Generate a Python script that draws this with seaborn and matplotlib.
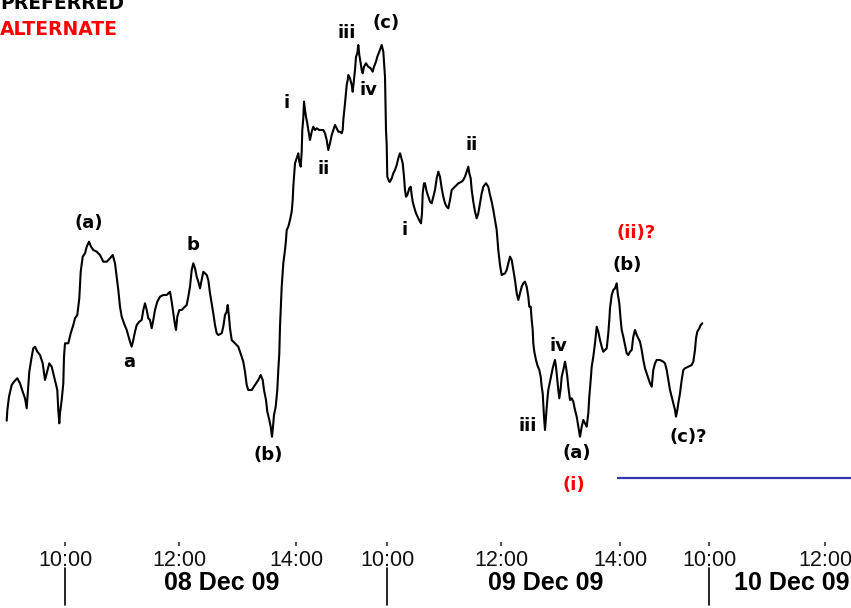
import matplotlib
matplotlib.use("Agg")
import matplotlib.pyplot as plt
import matplotlib.transforms as mtransforms
import seaborn as sns
import pandas as pd

# ---------------- data ----------------
# x: trading-time position (approx. minutes), y: price level (arbitrary units)
bar_pos = [
    6.7,7.3,9,11.7,14,17.3,20,22.7,25,26.7,29.3,31.7,33.3,35,37.3,40,42.7,45,46.7,49.3,51.7,53.3,55,57.3,58.3,59.3,60,61.7,63.3,64,65,68.3,70.7,73.3,75,77.3,79.3,80.7,82.7,85,86.7,89,91,93.3,96.7,100,103.3,106.7,110,112.7,115,116.7,118.3,120,121.7,124,126.7,130,131.7,133.3,135,136.7,139.3,141.7,
    143.3,145,146.7,148.3,150,151.7,153.3,155,157.3,160,163.3,166.7,170,171.7,173.3,175,176,177.3,179.3,181.7,183.3,186.7,188.3,190,191.7,193.3,195,196.7,198.3,200,201.7,203.3,205,206.7,208.3,210,211.7,213.3,215,216.7,218.3,221.7,223.3,225,226.7,227.7,229,230,231.7,235,238.3,240,241.7,243.3,245,246.7,248.3,251.7,255,258.3,260.7,262.7,264,266,267.3,269.3,270.7,272,272.7,274,275.7,277.3,278.3,279.3,280,281.7,283.3,285,286,
    286.7,288.3,290,291.7,292.7,293.3,294,295,296.7,298.3,299.3,300.7,301.7,302.3,303.3,304,305,306,307.3,308.3,310,311.7,313.3,315,316.7,319.3,321.7,323.3,325,326.7,328.3,330,331.7,333.3,335,336.7,338.3,340,341.7,342.7,343.3,345,346.7,347.7,348.3,350,351.7,352.7,354,355,356,357.3,358.3,359.3,360.7,361.7,362.7,364,366,368.3,370.7,372.7,374,376,377.3,379.3,381.7,383.3,385,386,386.7,387.3,389.3,
    390,391.7,393.3,395,396.7,398.3,400,401,402.7,404,405,406,407.3,408.3,409.3,410.7,411.7,412.7,414,416,418.3,420,421,422,422.7,424,425,426.7,428.3,430,431.7,433.3,435,436.7,438.3,440,441.7,443.3,445,446.7,448.3,450,451.7,453.3,455,456.7,458.3,461.7,463.3,465,466.7,468.3,469.3,470.7,471.7,473.3,475,476.7,478.3,480,481.7,483.3,486,488.3,490,491.7,493.3,495,496.7,498.3,500,501.7,505,506.7,508.3,510,511.7,513.3,515,516.7,518.3,520,521.7,523.3,525,526.7,528.3,529.3,
    530.7,531.7,532.7,533.3,534.3,536,537.3,539.3,540.7,541.7,542.7,544,545,546,547.3,548.3,550,551.7,552.7,554,555,556,557.3,558.3,559.3,560.7,561.7,563.3,565,566,567.3,568.3,570,571.7,573.3,575,576.7,578.3,580,581.7,583.3,585,586.7,588.3,589.3,590.7,591.7,593.3,595,596.7,
    598.3,600,601.7,603.3,605,606.7,608.3,609.3,610,611.7,613.3,615,616.7,617.7,619.3,620.7,621.7,623.3,625,626.7,628.3,630,631.7,633.3,635,636.7,638.3,640,641.7,643.3,645,646.7,648.3,650,651.7,653.3,655,656.7,660,663.3,665,666.7,668.3,670,671.7,673.3,675,676,677.3,678.3,680,681.7,683.3,685,688.3,691.7,693.3,695,696,697.3,699.3,700.7,702.3,
]
price = [
    179.3,189.3,203.3,215,218.3,221.7,216.7,208.3,201.7,191.7,228.3,243.3,251.7,253.3,248.3,245,236.7,220,226.7,236.7,233.3,226.7,220,210,190,176.7,186.7,200,216.7,243.3,256.7,256.7,266.7,275,281.7,285,301.7,328.3,343.3,346.7,353.3,358.3,353.3,350,348.3,345,338.3,338.3,341.7,345,336.7,323.3,310,293.3,283.3,276.7,270,258.3,253.3,260,268.3,275,278.3,280,
    290,296.7,290,281.7,280,271.7,280,290,298.3,303.3,305,305,308.3,298.3,286.7,275,270,283.3,290,290,291.7,295,303.3,313.3,330,336.7,331.7,323.3,318.3,311.7,320,328.3,326.7,325,320,306.7,296.7,286.7,275,266.7,265,266.7,273.3,285,288.3,295,283.3,271.7,260,256.7,253.3,248.3,243.3,238.3,228.3,215,210,210,215,220,225,220,210,200,188.3,180,173.3,163.3,170,185,193.3,210,230,246.7,273.3,313.3,336.7,350,360,
    370,373.3,380,388.3,400,413.3,423.3,436.7,441.7,446.7,438.3,433.3,448.3,470,481.7,498.3,490,483.3,476.7,470,460,468.3,473.3,470,471.7,470,470,470,466.7,460,450,456.7,465,470,475,471.7,468.3,468.3,466.7,470,480,496.7,515,520,525,521.7,515,508.3,520,530,543.3,546.7,555,545,536.7,530,526.7,533.3,536.7,533.3,531.7,528.3,533.3,538.3,543.3,548.3,555,548.3,523.3,470,455,423.3,418.3,
    418.3,421.7,426.7,430,435,441.7,446.7,443.3,436.7,423.3,410,403.3,405,408.3,411.7,413.3,405,398.3,393.3,386.7,381.7,378.3,376.7,386.7,406.7,416.7,416.7,408.3,403.3,398.3,396.7,403.3,410,421.7,428.3,423.3,411.7,403.3,396.7,393.3,391.7,400,410,411.7,413.3,415,416.7,418.3,420,423.3,428.3,433.3,426.7,421.7,410,398.3,388.3,381.7,386.7,396.7,406.7,413.3,416.7,413.3,405,398.3,390,380,370,350,335,325,326.7,330,336.7,343.3,340,330,320,306.7,300,306.7,313.3,316.7,318.3,313.3,303.3,293.3,
    293.3,280,270,256.7,248.3,240,235,230,223.3,213.3,206.7,183.3,170,183.3,200,210,218.3,226.7,231.7,236.7,240,233.3,220,210,201.7,211.7,223.3,230,238.3,233.3,223.3,213.3,200,201.7,198.3,190,183.3,173.3,163.3,173.3,180,176.7,173.3,186.7,203.3,220,233.3,243.3,256.7,273.3,
    268.3,260,253.3,248.3,250,251.7,266.7,280,291.7,305,310,311.7,316.7,306.7,296.7,280,270,263.3,255,246.7,245,248.3,250,263.3,270,265,261.7,258.3,250,240,231.7,226.7,221.7,216.7,213.3,230,236.7,240,240,238.3,236.7,230,220,210,203.3,196.7,190,183.3,190,196.7,206.7,220,230,231.7,233.3,235,238.3,250,261.7,268.3,271.7,275,276.7,
]

tick_pos = [65, 179, 296, 387, 501, 620, 709, 825]
tick_labels = ["10:00", "12:00", "14:00", "10:00", "12:00", "14:00", "10:00", "12:00"]
day_starts = [65, 387, 709]
day_label_pos = [222, 546, 792]
day_labels = ["08 Dec 09", "09 Dec 09", "10 Dec 09"]

support_level = 122
support_from = 617

# wave labels: text, x, y, colour
wave_text = ["(a)", "a", "b", "(b)", "i", "ii", "iii", "(c)", "iv", "i", "ii",
             "iv", "iii", "(a)", "(i)", "(c)?", "(ii)?", "(b)"]
wave_x = [89, 129, 193, 268, 287, 324, 347, 386, 368, 405, 472,
          558, 528, 577, 574, 688, 636, 627]
wave_y = [377, 238, 355, 145, 497, 431, 567, 577, 510, 370, 455,
          254, 174, 147, 115, 163, 367, 335]
wave_col = ["black"] * 14 + ["red", "black", "red", "black"]

# ---------------- plot ----------------
sns.set_theme(style="white")
plt.rcParams["font.family"] = ["DejaVu Sans"]

W, H = 851, 608
fig = plt.figure(figsize=(W / 100, H / 100), dpi=100)
ax_bottom_px = 542
ax = fig.add_axes([0, 1 - ax_bottom_px / H, 1, ax_bottom_px / H])

df = pd.DataFrame({"pos": bar_pos, "price": price})
sns.lineplot(data=df, x="pos", y="price", ax=ax, color="black",
             linewidth=1.5, sort=False, estimator=None)

ax.hlines(support_level, support_from, W, color="#3737b5", linewidth=1.6)

ax.set_xlim(0, W)
ax.set_ylim(600 - ax_bottom_px, 600)
for s in ax.spines.values():
    s.set_visible(False)
ax.set_yticks([])
ax.set_xlabel("")
ax.set_ylabel("")
ax.set_xticks(tick_pos)
ax.set_xticklabels(tick_labels, fontfamily="Liberation Sans", fontsize=15.5,
                   color="#111111")
ax.tick_params(axis="x", bottom=True, length=3, width=1.2, pad=3,
               color="#333333", direction="out")

for t, x, y, c in zip(wave_text, wave_x, wave_y, wave_col):
    ax.text(x, y, t, color=c, fontsize=13, fontweight="bold",
            ha="center", va="center", family="DejaVu Sans")

trans = mtransforms.blended_transform_factory(ax.transData, fig.transFigure)
for xs in day_starts:
    ax.plot([xs, xs], [1 - 568 / H, 1 - 605 / H], transform=trans,
            color="black", linewidth=1.2, clip_on=False)
for xl, lab in zip(day_label_pos, day_labels):
    ax.text(xl, 1 - 590 / H, lab, transform=trans, ha="center", va="baseline",
            fontsize=18, fontweight="bold", family="Liberation Sans",
            color="black", clip_on=False)

fig.text(0, 1 - 9 / H, "PREFERRED", color="black", fontsize=13.5,
         fontweight="bold", ha="left", va="baseline")
fig.text(0, 1 - 35 / H, "ALTERNATE", color="red", fontsize=13.5,
         fontweight="bold", ha="left", va="baseline")

fig.savefig("out.png", dpi=100, facecolor="white")
